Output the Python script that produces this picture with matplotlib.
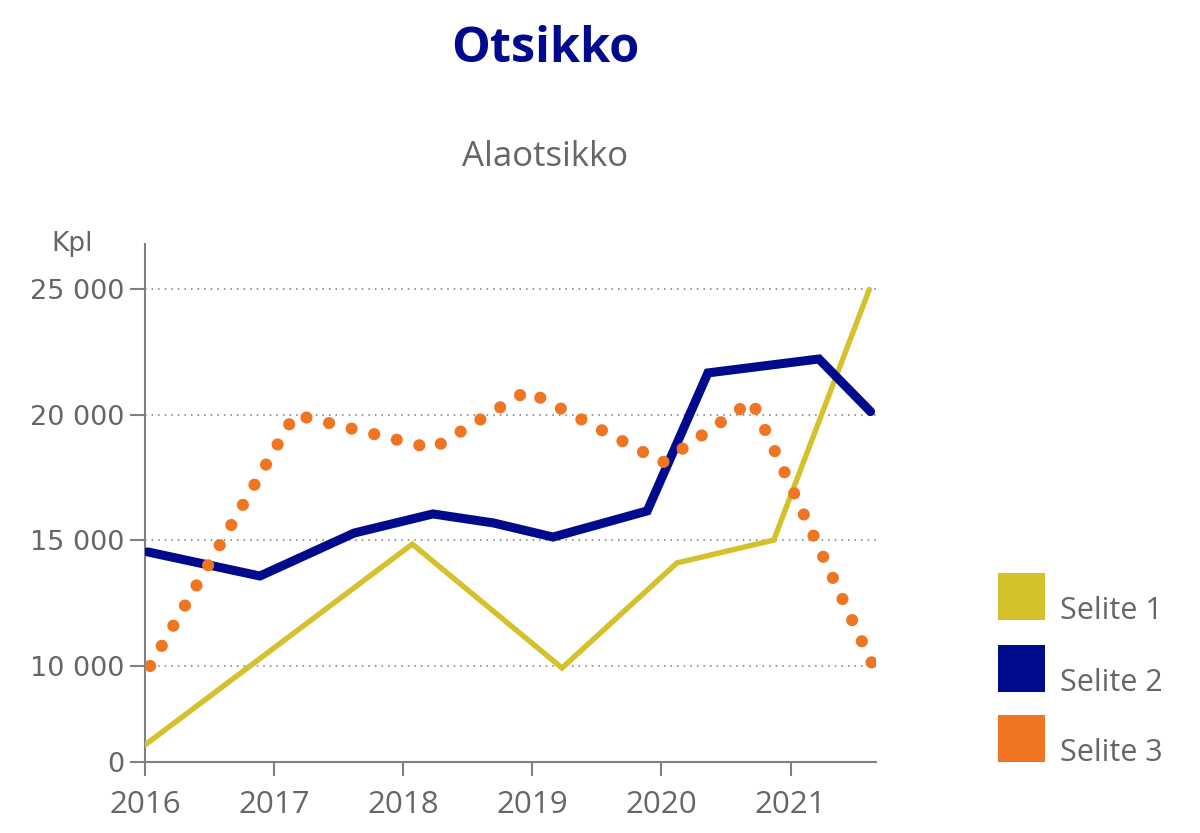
import matplotlib
matplotlib.use("Agg")
import matplotlib.pyplot as plt
from matplotlib.patches import Rectangle

# ---- data ----
x1 = [2016.00, 2018.07, 2019.23, 2020.12, 2020.87, 2021.61]
y1 = [6860, 14850, 9920, 14100, 15010, 24980]

x2 = [2016.02, 2016.89, 2017.62, 2018.23, 2018.70, 2019.16, 2019.89, 2020.36, 2021.22, 2021.62]
y2 = [14540, 13580, 15290, 16050, 15690, 15130, 16170, 21660, 22215, 20120]

x3 = [2016.04, 2017.16, 2018.23, 2018.96, 2020.01, 2020.70, 2021.64]
y3 = [10000, 20000, 18650, 20950, 18100, 20550, 10000]

labels = ["Selite 1", "Selite 2", "Selite 3"]
colors = ["#D4C12B", "#000A8C", "#F07522"]

years = [2016, 2017, 2018, 2019, 2020, 2021]
ytick_vals = [6180, 10000, 15000, 20000, 25000]
ytick_labels = ["0", "10 000", "15 000", "20 000", "25 000"]

title = "Otsikko"
subtitle = "Alaotsikko"
unit = "Kpl"

grey = "#666666"
axis_grey = "#808080"

fig = plt.figure(figsize=(12, 8.33), dpi=100)
ax = fig.add_axes([145/1200, 1-762/833, (876-145)/1200, (762-244)/833])

ax.set_xlim(2016, 2021.662)
ax.set_ylim(6180, 26790)

# grid
for v in ytick_vals[1:]:
    ax.axhline(v, color="#777777", lw=1.1, linestyle=(0, (1, 3.3)), zorder=1)

ax.plot(x1, y1, color=colors[0], lw=3.9, solid_capstyle="round", solid_joinstyle="miter", zorder=3)
ax.plot(x2, y2, color=colors[1], lw=6.5, solid_capstyle="round", solid_joinstyle="miter", zorder=4)
ax.plot(x3, y3, color=colors[2], lw=8.8, linestyle=(0, (0.001, 1.9)),
        dash_capstyle="round", zorder=5)

for s in ["top", "right"]:
    ax.spines[s].set_visible(False)
for s in ["left", "bottom"]:
    ax.spines[s].set_color(axis_grey)
    ax.spines[s].set_linewidth(1.5)

ax.set_yticks(ytick_vals)
ax.set_yticklabels(ytick_labels, fontfamily="DejaVu Sans", fontsize=19.5, color=grey)
ax.set_xticks(years)
ax.set_xticklabels([str(y) for y in years], fontfamily="Open Sans", fontsize=22.5, color=grey)
ax.tick_params(axis="y", direction="out", length=11, width=1.5, color=axis_grey, pad=4)
ax.tick_params(axis="x", direction="out", length=10, width=1.5, color=axis_grey, pad=10)

# titles
fig.text(545/1200, 1-50/833, title, ha="center", va="center", fontfamily="Open Sans",
         fontweight="bold", fontsize=35, color="#000A8C")
fig.text(545/1200, 1-157/833, subtitle, ha="center", va="center", fontfamily="Open Sans",
         fontsize=25, color=grey)
fig.text(72/1200, 1-244/833, unit, ha="center", va="center", fontfamily="DejaVu Sans",
         fontsize=19, color=grey)

# legend
sq_tops = [573, 645, 715]
for lab, col, top in zip(labels, colors, sq_tops):
    fig.patches.append(Rectangle((998/1200, 1-(top+47)/833), 47/1200, 47/833,
                                 transform=fig.transFigure, facecolor=col, edgecolor="none"))
    fig.text(1060/1200, 1-(top+46)/833, lab, ha="left", va="baseline", fontfamily="Open Sans",
             fontsize=22, color=grey)

fig.savefig("out.png", dpi=100)
